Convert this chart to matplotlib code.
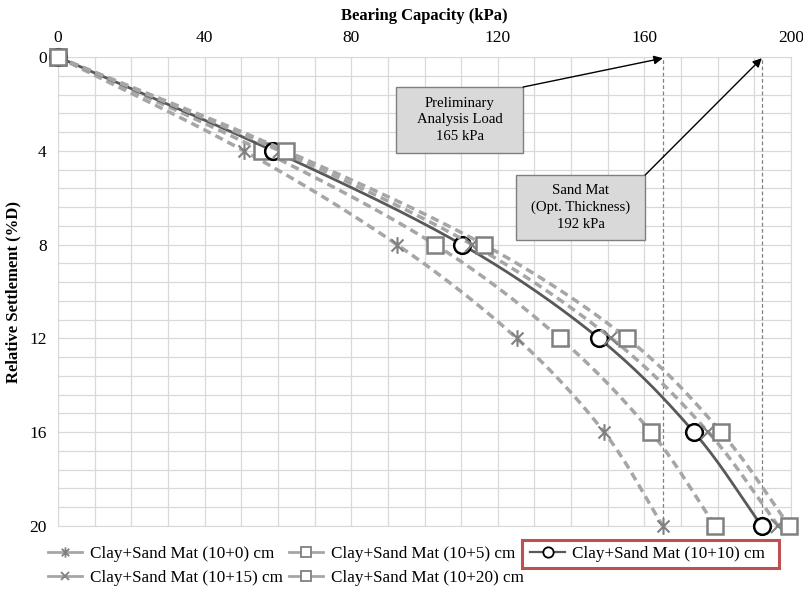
import numpy as np
import matplotlib
matplotlib.use("Agg")
import matplotlib.pyplot as plt
from matplotlib.path import Path
from matplotlib.patches import Rectangle
from matplotlib.lines import Line2D
from matplotlib.transforms import Bbox

plt.rcParams['font.family'] = ['Liberation Serif', 'DejaVu Serif']

settlement = [0, 4, 8, 12, 16, 20]
cap_10_0 = [0, 50.7, 92.5, 125.2, 149.0, 165.0]
cap_10_5 = [0, 55.7, 102.9, 137.0, 161.8, 179.3]
cap_10_10 = [0, 58.7, 110.2, 147.6, 173.5, 192.0]
cap_10_15 = [0, 60.5, 113.0, 151.0, 177.4, 196.5]
cap_10_20 = [0, 62.2, 116.2, 155.3, 180.9, 199.5]

labels = ['Clay+Sand Mat (10+0) cm', 'Clay+Sand Mat (10+5) cm',
          'Clay+Sand Mat (10+10) cm', 'Clay+Sand Mat (10+15) cm',
          'Clay+Sand Mat (10+20) cm']

prelim_load = 165
opt_load = 192


def smooth(x, y, n=30):
    # catmull-rom through the points, done on axis-normalised coords
    px = np.asarray(x, float) / 200.0
    py = np.asarray(y, float) / 20.0 * 0.64
    p = np.column_stack([px, py])
    p = np.vstack([2 * p[0] - p[1], p, 2 * p[-1] - p[-2]])
    out = []
    for i in range(1, len(p) - 2):
        p0, p1, p2, p3 = p[i - 1], p[i], p[i + 1], p[i + 2]
        t = np.linspace(0, 1, n, endpoint=False)[:, None]
        seg = 0.5 * ((2 * p1) + (-p0 + p2) * t +
                     (2 * p0 - 5 * p1 + 4 * p2 - p3) * t ** 2 +
                     (-p0 + 3 * p1 - 3 * p2 + p3) * t ** 3)
        out.append(seg)
    out.append(p[-2][None, :])
    out = np.vstack(out)
    return out[:, 0] * 200.0, out[:, 1] / 0.64 * 20.0


star = Path([(0, -1), (0, 1), (-0.72, -0.72), (0.72, 0.72), (-0.72, 0.72), (0.72, -0.72)],
            [Path.MOVETO, Path.LINETO, Path.MOVETO, Path.LINETO, Path.MOVETO, Path.LINETO])

light = '#a6a6a6'
mk = '#808080'
dark = '#595959'
dash = (0, (2.4, 1.5))

fig = plt.figure(figsize=(8.04, 5.92), dpi=100)
ax = fig.add_axes([0.072, 0.1115, 0.912, 0.7922])

styles = [
    (cap_10_0, dict(marker=star, ms=12, mec=mk, mfc='none', mew=1.5), light, dash, 2.5),
    (cap_10_5, dict(marker='s', ms=11, mec=mk, mfc='white', mew=1.8), light, dash, 2.5),
    (cap_10_10, dict(marker='o', ms=12, mec='black', mfc='white', mew=1.8), dark, '-', 2.0),
    (cap_10_15, dict(marker='x', ms=10, mec=mk, mfc='none', mew=1.5), light, dash, 2.5),
    (cap_10_20, dict(marker='s', ms=11, mec=mk, mfc='white', mew=1.8), light, dash, 2.5),
]

handles = []
for i, (vals, mkw, col, ls, lw) in enumerate(styles):
    sx, sy = smooth(vals, settlement)
    ax.plot(sx, sy, color=col, ls=ls, lw=lw, zorder=3 + i)
    ax.plot(vals, settlement, ls='none', zorder=3 + i, clip_on=False, **mkw)
    small = dict(mkw)
    small['ms'] = mkw['ms'] * 0.62
    small['mew'] = 1.3
    handles.append(Line2D([], [], color=col, ls='-', lw=lw * 0.8, **small))

# reference loads
for v in (prelim_load, opt_load):
    ax.axvline(v, color='#808080', lw=0.9, ls=(0, (3, 2)), zorder=2)

ax.set_xlim(0, 200)
ax.set_ylim(20, 0)
ax.xaxis.tick_top()
ax.xaxis.set_label_position('top')
ax.set_xticks(np.arange(0, 201, 40))
ax.set_xticks(np.arange(0, 201, 10), minor=True)
ax.set_yticks(np.arange(0, 21, 4))
ax.set_yticks(np.arange(0, 20.01, 0.8), minor=True)
ax.grid(True, which='both', color='#d9d9d9', lw=0.9, zorder=0)
ax.set_axisbelow(True)
ax.tick_params(which='both', length=0, labelsize=12.5, pad=8)
for s in ax.spines.values():
    s.set_color('#d9d9d9')
ax.set_xlabel('Bearing Capacity (kPa)', fontsize=12, fontweight='bold', labelpad=7)
ax.set_ylabel('Relative Settlement (%D)', fontsize=12, fontweight='bold', labelpad=6)

# callout boxes with arrows to the load lines
boxes = [
    ('Preliminary\nAnalysis Load\n165 kPa', (92.2, 1.28, 126.9, 4.09), prelim_load),
    ('Sand Mat\n(Opt. Thickness)\n192 kPa', (125.0, 5.03, 160.2, 7.80), opt_load),
]
for txt, (x0, y0, x1, y1), load in boxes:
    ax.add_patch(Rectangle((x0, y0), x1 - x0, y1 - y0, fc='#d9d9d9', ec='#7f7f7f',
                           lw=1.0, zorder=10))
    ax.text((x0 + x1) / 2, (y0 + y1) / 2, txt, ha='center', va='center',
            fontsize=10.6, linespacing=1.35, zorder=11)
    ax.annotate('', xy=(load, 0.05), xytext=(x1, y0),
                arrowprops=dict(arrowstyle='-|>', color='black', lw=1.0,
                                mutation_scale=13, shrinkA=0, shrinkB=0),
                zorder=11, annotation_clip=False)

order = [0, 3, 1, 4, 2]
leg = fig.legend([handles[i] for i in order], [labels[i] for i in order],
                 loc='upper left', bbox_to_anchor=(48 / 804, 1 - 546 / 592), ncol=3,
                 frameon=False, fontsize=12.3, handlelength=2.0, handletextpad=0.45,
                 columnspacing=0.38, labelspacing=0.45, borderpad=0,
                 borderaxespad=0)

fig.canvas.draw()
r = fig.canvas.get_renderer()
txt = leg.get_texts()[4]
hnd = leg.legend_handles[4]
tb = txt.get_window_extent(r)
hb = hnd.get_window_extent(r)
cy = (tb.y0 + tb.y1) / 2
bb = Bbox.from_extents(hb.x0 - 3, cy - 14, tb.x1 + 14, cy + 14)
bb = bb.transformed(fig.transFigure.inverted())
fig.add_artist(Rectangle((bb.x0, bb.y0), bb.width, bb.height, fill=False,
                         ec='#c0504d', lw=2.2, transform=fig.transFigure))

fig.savefig('out.png', dpi=100)
